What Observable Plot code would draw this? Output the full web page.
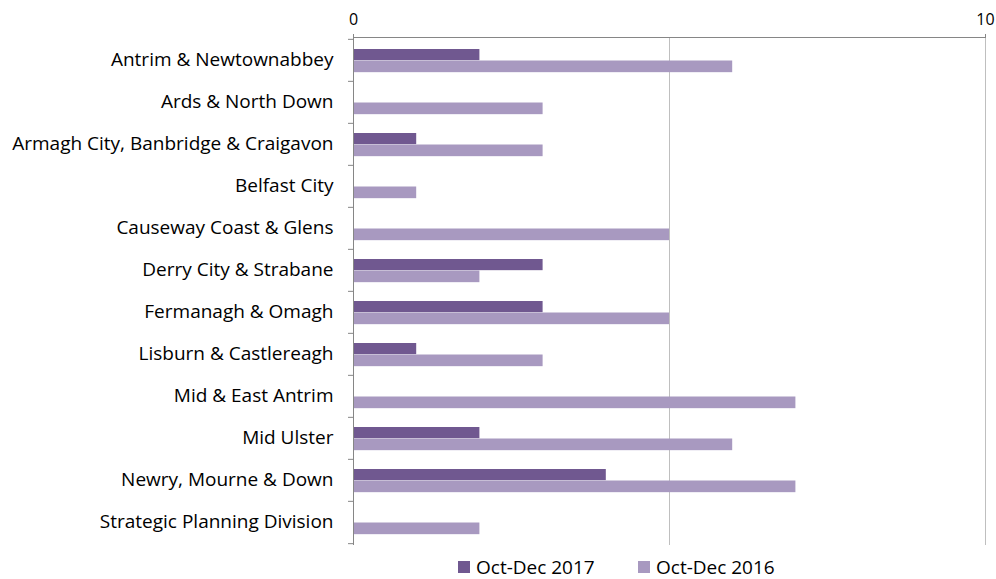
<!DOCTYPE html>
<html>
<head>
<meta charset="utf-8">
<script src="https://cdn.jsdelivr.net/npm/d3@7"></script>
<script src="https://cdn.jsdelivr.net/npm/@observablehq/plot@0.6"></script>
<style>
  body { margin: 0; background: #fff; font-family: "Open Sans", sans-serif; }
  #wrap { position: relative; width: 996px; height: 579px; }
  #legend { position: absolute; top: 550px; left: 0; width: 996px; height: 29px; font-size: 19px; color: #000; }
  .item { position: absolute; top: 4px; display: flex; align-items: center; }
  .sw { width: 12px; height: 12px; margin-right: 6px; }
</style>
</head>
<body>
<div id="wrap">
  <div id="chart"></div>
  <div id="legend"></div>
</div>
<script>
const regions = [
  "Antrim & Newtownabbey",
  "Ards & North Down",
  "Armagh City, Banbridge & Craigavon",
  "Belfast City",
  "Causeway Coast & Glens",
  "Derry City & Strabane",
  "Fermanagh & Omagh",
  "Lisburn & Castlereagh",
  "Mid & East Antrim",
  "Mid Ulster",
  "Newry, Mourne & Down",
  "Strategic Planning Division"
];
const v2017 = [2, 0, 1, 0, 0, 3, 3, 1, 0, 2, 4, 0];
const v2016 = [6, 3, 3, 1, 5, 2, 5, 3, 7, 6, 7, 2];
const seriesNames = ["Oct-Dec 2017", "Oct-Dec 2016"];
const seriesColors = ["#705890", "#a899c0"];
const xTicks = [0, 10];
const gridTicks = [5, 10];

const d2017 = regions.map((r, i) => ({region: r, value: v2017[i]}));
const d2016 = regions.map((r, i) => ({region: r, value: v2016[i]}));

const H = 550, MT = 37, MB = 5;
const band = (H - MT - MB) / regions.length;

const chart = Plot.plot({
  width: 996,
  height: H,
  marginTop: MT,
  marginBottom: MB,
  marginLeft: 353,
  marginRight: 11,
  style: {fontFamily: "Open Sans, sans-serif", fontSize: "19px", color: "#000", background: "#fff"},
  x: {domain: [0, 10]},
  y: {domain: regions, padding: 0},
  marks: [
    Plot.gridX(gridTicks, {stroke: "#bfbfbf", strokeOpacity: 1}),
    Plot.barX(d2017, {x: "value", y: "region", fill: seriesColors[0], insetTop: 10, insetBottom: band - 21.5}),
    Plot.barX(d2016, {x: "value", y: "region", fill: seriesColors[1], insetTop: 21.5, insetBottom: band - 33.5}),
    Plot.ruleX([0], {stroke: "#868686"}),
    Plot.frame({anchor: "top", stroke: "#868686"}),
    Plot.axisX({anchor: "top", ticks: xTicks, tickSize: 4, tickPadding: 9, stroke: "#868686", fill: "#000", fontSize: 16, label: null}),
    Plot.axisY({tickSize: 0, tickPadding: 20, fontSize: 19, fill: "#000", label: null, dy: -1}),
    Plot.axisY({tickSize: 5, tickFormat: () => "", dy: -band / 2, stroke: "#868686", label: null}),
    Plot.axisY([regions[regions.length - 1]], {tickSize: 5, tickFormat: () => "", dy: band / 2, stroke: "#868686", label: null})
  ]
});
document.getElementById("chart").appendChild(chart);

const legend = document.getElementById("legend");
const lefts = [458, 638];
seriesNames.forEach((name, i) => {
  const it = document.createElement("div");
  it.className = "item";
  it.style.left = lefts[i] + "px";
  const sw = document.createElement("div");
  sw.className = "sw";
  sw.style.background = seriesColors[i];
  const t = document.createElement("span");
  t.textContent = name;
  it.appendChild(sw);
  it.appendChild(t);
  legend.appendChild(it);
});
</script>
</body>
</html>
